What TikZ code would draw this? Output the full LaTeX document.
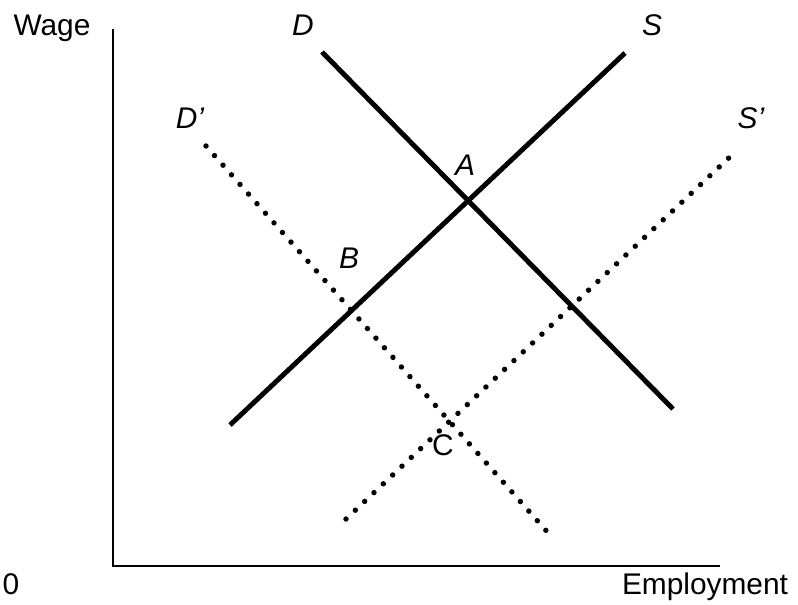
\documentclass[tikz,border=0pt]{standalone}
\usepackage{fontspec}
\setmainfont{Liberation Sans}
\usetikzlibrary{positioning}
\definecolor{ink}{HTML}{000000}
\tikzset{
  axisline/.style={line width=1.2pt,draw=ink},
  curve/.style={line width=2.8pt,draw=ink},
  dotcurve/.style={line width=3.1pt,draw=ink,line cap=round,dash pattern=on 0pt off 7.3pt},
  lbl/.style={font=\fontsize{17}{20}\selectfont,text=ink,anchor=base,inner sep=0pt},
  curvelbl/.style={lbl,font=\fontsize{17}{20}\selectfont\itshape}
}
\begin{document}
\begin{tikzpicture}[x=0.02cm,y=-0.02cm]
  \useasboundingbox (0,0) rectangle (798,605);
  % axes
  \coordinate (origin) at (113,566);
  \coordinate (ytop) at (113,29);
  \coordinate (xend) at (720,566);
  \draw[axisline] (ytop) -- (origin) -- (xend);
  \node[lbl] (wage) at (52,35) {Wage};
  \node[lbl] (zero) at (11,594) {0};
  \node[lbl] (employment) at (705,594) {Employment};
  % demand and supply
  \coordinate (dtop) at (322,52);
  \coordinate (dbot) at (673,409);
  \coordinate (stop) at (625,53);
  \coordinate (sbot) at (230,425);
  \draw[curve] (dtop) -- (dbot);
  \draw[curve] (sbot) -- (stop);
  \node[curvelbl] (dlabel) at (303,35) {D};
  \node[curvelbl] (slabel) at (652,35) {S};
  % shifted curves
  \coordinate (d2top) at (206,146);
  \coordinate (d2bot) at (550,535);
  \coordinate (s2top) at (734,153);
  \coordinate (s2bot) at (346,519);
  \draw[dotcurve] (d2top) -- (d2bot);
  \draw[dotcurve] (s2bot) -- (s2top);
  \node[curvelbl] (d2label) at (190,128) {D’};
  \node[curvelbl] (s2label) at (751,128) {S’};
  % equilibria
  \node[curvelbl] (ptA) at (465,175) {A};
  \node[curvelbl] (ptB) at (349,268) {B};
  \node[lbl] (ptC) at (443,455) {C};
\end{tikzpicture}
\end{document}
